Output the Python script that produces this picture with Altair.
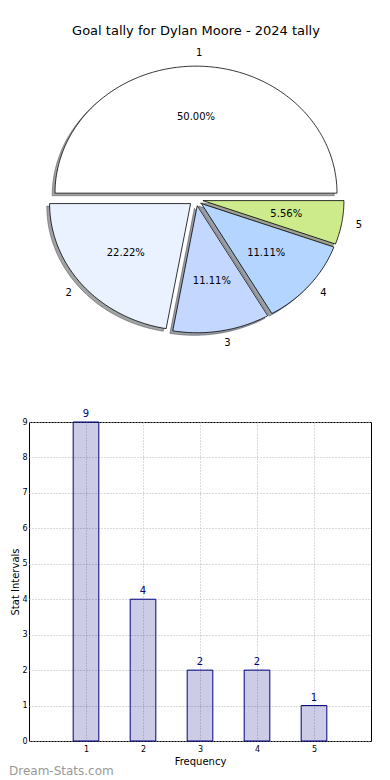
import math
import altair as alt
import pandas as pd

# ---- data ----
categories = [1, 2, 3, 4, 5]
counts = [9, 4, 2, 2, 1]
slice_colors = ["#FFFFFF", "#EAF1FF", "#C4D7FF", "#B3D5FF", "#CDEB8B"]
pie_title = "Goal tally for Dylan Moore - 2024 tally"
x_title = "Frequency"
y_title = "Stat Intervals"
watermark = "Dream-Stats.com"
x_ticks = [1, 2, 3, 4, 5]
y_ticks = [0, 1, 2, 3, 4, 5, 6, 7, 8, 9]

# ---- styling constants ----
FONT = "DejaVu Sans"
NAVY = "#000080"
EXPLODE = 0.05
SHADOW_OFF = -0.02
BAR_W = 0.45

PIE_W, PIE_H = 334, 381
BAR_WIDTH_PX, BAR_HEIGHT_PX = 342, 319
pie_xdom = [-167 / 141, 167 / 141]
pie_ydom = [-1.5, 1.5]


def hex_to_rgb(h):
    h = h.lstrip("#")
    return tuple(int(h[i:i + 2], 16) for i in (0, 2, 4))


def shadow_of(h):
    r, g, b = hex_to_rgb(h)
    return "#%02x%02x%02x" % (int(0.3 * r), int(0.3 * g), int(0.3 * b))


# ---- pie geometry in data units (radius 1) ----
total = sum(counts)
poly_rows, label_rows, pct_rows = [], [], []
start = 0.0
for i, (cat, cnt, col) in enumerate(zip(categories, counts, slice_colors)):
    frac = cnt / total
    a0, a1 = start, start + 360.0 * frac
    start = a1
    mid = math.radians((a0 + a1) / 2)
    ox, oy = EXPLODE * math.cos(mid), EXPLODE * math.sin(mid)
    n = max(4, int(round(a1 - a0)))
    pts = [(ox, oy)]
    for k in range(n + 1):
        a = math.radians(a0 + (a1 - a0) * k / n)
        pts.append((ox + math.cos(a), oy + math.sin(a)))
    pts.append((ox, oy))
    for j, (px, py) in enumerate(pts):
        poly_rows.append({
            "slice": f"s{i}", "ord": j, "x": px, "y": py,
            "sx": px + SHADOW_OFF, "sy": py + SHADOW_OFF,
            "fillc": col, "shadc": shadow_of(col),
        })
    lx, ly = ox + 1.1 * math.cos(mid), oy + 1.1 * math.sin(mid)
    label_rows.append({"text": str(cat), "x": lx, "y": ly,
                       "side": "left" if lx > 0 else "right"})
    pct_rows.append({"text": f"{frac * 100:.2f}%",
                     "x": ox + 0.6 * math.cos(mid), "y": oy + 0.6 * math.sin(mid)})

df_poly = pd.DataFrame(poly_rows)
df_lab = pd.DataFrame(label_rows)
df_pct = pd.DataFrame(pct_rows)
df_title = pd.DataFrame({"t": [pie_title]})

xs = alt.Scale(domain=pie_xdom, nice=False, zero=False)
ys = alt.Scale(domain=pie_ydom, nice=False, zero=False)

shadow = alt.Chart(df_poly).mark_line(
    filled=True, fillOpacity=0.5, strokeOpacity=0.5, strokeWidth=1
).encode(
    x=alt.X("sx:Q", scale=xs, axis=None),
    y=alt.Y("sy:Q", scale=ys, axis=None),
    detail="slice:N",
    order="ord:Q",
    fill=alt.Fill("shadc:N", scale=None),
    stroke=alt.Stroke("shadc:N", scale=None),
)

wedges = alt.Chart(df_poly).mark_line(
    filled=True, stroke="black", strokeWidth=0.8, strokeJoin="miter"
).encode(
    x=alt.X("x:Q", scale=xs, axis=None),
    y=alt.Y("y:Q", scale=ys, axis=None),
    detail="slice:N",
    order="ord:Q",
    fill=alt.Fill("fillc:N", scale=None),
)

lab_left = alt.Chart(df_lab).transform_filter("datum.side == 'left'").mark_text(
    align="left", baseline="middle", fontSize=10, color="black"
).encode(
    x=alt.X("x:Q", scale=xs, axis=None),
    y=alt.Y("y:Q", scale=ys, axis=None),
    text="text:N",
)
lab_right = alt.Chart(df_lab).transform_filter("datum.side == 'right'").mark_text(
    align="right", baseline="middle", fontSize=10, color="black"
).encode(
    x=alt.X("x:Q", scale=xs, axis=None),
    y=alt.Y("y:Q", scale=ys, axis=None),
    text="text:N",
)
pct = alt.Chart(df_pct).mark_text(
    align="center", baseline="middle", fontSize=10, color="black"
).encode(
    x=alt.X("x:Q", scale=xs, axis=None),
    y=alt.Y("y:Q", scale=ys, axis=None),
    text="text:N",
)
title = alt.Chart(df_title).mark_text(
    align="center", baseline="middle", fontSize=13, color="black"
).encode(
    x=alt.value(PIE_W / 2),
    y=alt.value(22),
    text="t:N",
)

pie = alt.layer(shadow, wedges, lab_left, lab_right, pct, title).properties(
    width=PIE_W, height=PIE_H,
    view=alt.ViewBackground(fill="white", stroke="transparent"),
)

# ---- bar chart ----
df_bar = pd.DataFrame({"cat": categories, "count": counts})

bx = alt.Scale(domain=[0, 6], nice=False, zero=False)
by = alt.Scale(domain=[0, 9], nice=False)

x_axis = alt.Axis(
    values=x_ticks, title=x_title, grid=True, gridColor="#b4b4b4", gridDash=[1, 2],
    gridWidth=1, domain=False, ticks=False, tickSize=0, labelFontSize=8,
    labelPadding=4, labelFlush=False, labelOverlap=False, labelColor="black",
    titleFontSize=10, titleFontWeight="normal", titlePadding=3, titleColor="black",
    format="d",
)
y_axis = alt.Axis(
    values=y_ticks, title=y_title, grid=True, gridColor="#b4b4b4", gridDash=[1, 2],
    gridWidth=1, domain=False, ticks=False, tickSize=0, labelFontSize=8,
    labelPadding=2, labelFlush=False, labelOverlap=False, labelColor="black",
    titleFontSize=10, titleFontWeight="normal", titleColor="black",
    titleX=-11, titleY=BAR_HEIGHT_PX / 2, titleBaseline="alphabetic", titleAngle=270,
    format="d",
)

bars = alt.Chart(df_bar).transform_calculate(
    x0=f"datum.cat - {BAR_W / 2}", x1=f"datum.cat + {BAR_W / 2}", zero="0"
).mark_rect(
    fill=NAVY, fillOpacity=0.2, stroke=NAVY, strokeWidth=1
).encode(
    x=alt.X("x0:Q", scale=bx, axis=x_axis),
    x2="x1:Q",
    y=alt.Y("count:Q", scale=by, axis=y_axis),
    y2="zero:Q",
)

vals = alt.Chart(df_bar).mark_text(
    color=NAVY, fontSize=10, baseline="alphabetic", dy=-5
).encode(
    x=alt.X("cat:Q", scale=bx, axis=x_axis),
    y=alt.Y("count:Q", scale=by, axis=y_axis),
    text="count:Q",
)

wm = alt.Chart(pd.DataFrame({"t": [watermark]})).mark_text(
    align="left", baseline="middle", fontSize=12, color="#999999"
).encode(
    x=alt.value(-20),
    y=alt.value(349),
    text="t:N",
)

bar = alt.layer(bars, vals, wm).properties(
    width=BAR_WIDTH_PX, height=BAR_HEIGHT_PX,
    view=alt.ViewBackground(stroke="black", strokeWidth=1),
)

chart = alt.vconcat(pie, bar, spacing=32, bounds="flush").properties(
    padding=0
).configure(font=FONT).configure_text(font=FONT)

chart.save("out.html", embed_options={"renderer": "svg", "actions": False})
